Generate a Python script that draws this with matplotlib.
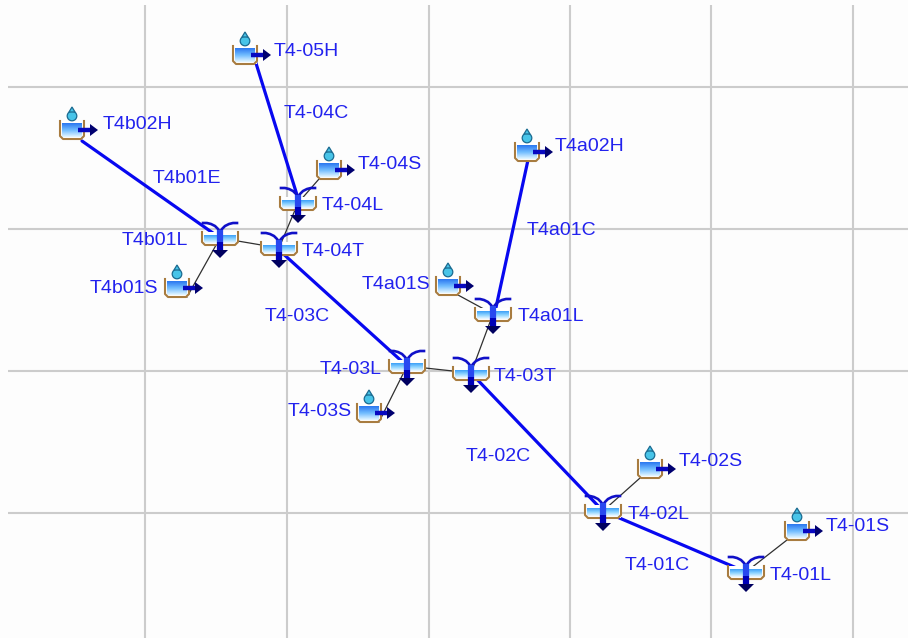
import matplotlib
matplotlib.use("Agg")
import matplotlib.pyplot as plt
from matplotlib.patches import Polygon, Circle
from matplotlib.colors import LinearSegmentedColormap
import numpy as np

W, H = 908, 638
grid_x = [145, 287, 429, 570, 711, 853]
grid_y = [87, 229, 371, 513]
grid_left = 8
grid_top = 5

source_names = ["T4-05H", "T4b02H", "T4-04S", "T4b01S", "T4a02H", "T4a01S", "T4-03S", "T4-02S", "T4-01S"]
source_x = [245, 72, 329, 177, 527, 448, 369, 650, 797]
source_y = [55, 130, 170, 288, 152, 286, 413, 469, 531]
source_label_x = [274, 103, 358, 90, 555, 362, 288, 679, 826]
source_label_y = [50, 123, 163, 287, 145, 283, 410, 460, 525]

junction_names = ["T4b01L", "T4-04T", "T4-04L", "T4a01L", "T4-03L", "T4-03T", "T4-02L", "T4-01L"]
junction_x = [220, 279, 298, 493, 407, 471, 603, 746]
junction_y = [238, 248, 203, 314, 366, 373, 511, 572]
junction_label_x = [122, 302, 322, 518, 320, 494, 628, 770]
junction_label_y = [239, 250, 204, 315, 368, 375, 513, 574]

reach_names = ["T4b01E", "T4-04C", "T4-03C", "T4a01C", "T4-02C", "T4-01C"]
reach_label_x = [153, 284, 265, 527, 466, 625]
reach_label_y = [177, 112, 315, 229, 455, 564]
reach_from = ["T4b02H", "T4-05H", "T4-04T", "T4a02H", "T4-03T", "T4-02L"]
reach_to = ["T4b01L", "T4-04L", "T4-03L", "T4a01L", "T4-02L", "T4-01L"]
reach_start_x = [82, 255, 279, 528, 471, 603]
reach_start_y = [141, 60, 250, 160, 373, 511]
reach_end_x = [220, 297, 407, 495, 603, 746]
reach_end_y = [238, 195, 366, 312, 511, 572]

link_from = ["T4-04L", "T4-04S", "T4b01S", "T4b01L", "T4a01S", "T4a01L", "T4-03S", "T4-03L", "T4-02S", "T4-01S"]
link_to = ["T4-04T", "T4-04L", "T4b01L", "T4-04T", "T4a01L", "T4-03T", "T4-03L", "T4-03T", "T4-02L", "T4-01L"]

BLUE = "#0808f0"
TEXT = "#2222ee"
BACKGROUND = "#fdfdfd"
pos = {n: (x, y) for n, x, y in zip(source_names, source_x, source_y)}
pos.update({n: (x, y) for n, x, y in zip(junction_names, junction_x, junction_y)})

fig = plt.figure(figsize=(W / 100, H / 100), dpi=100, facecolor=BACKGROUND)
ax = fig.add_axes([0, 0, 1, 1])
ax.set_xlim(0, W)
ax.set_ylim(H, 0)
ax.axis("off")

ax.vlines(grid_x, grid_top, H, color="#cccccc", lw=1.5, zorder=1)
ax.hlines(grid_y, grid_left, W, color="#cccccc", lw=1.5, zorder=1)

def link_end(name, other):
    x, y = pos[name]
    if name in source_names:
        side = 1 if pos[other][0] > x else -1
        return (x + side * 10, y + 9)
    return (x, y)

for a, b in zip(link_from, link_to):
    x0, y0 = link_end(a, b)
    x1, y1 = link_end(b, a)
    ax.plot([x0, x1], [y0, y1], color="#303030", lw=0.9, zorder=2)
for x0, y0, x1, y1 in zip(reach_start_x, reach_start_y, reach_end_x, reach_end_y):
    ax.plot([x0, x1], [y0, y1], color=BLUE, lw=2.3, zorder=2, solid_capstyle="round")

water_dark = LinearSegmentedColormap.from_list("wd", ["#2c78f0", "#70bcff", "#e4f6ff"])
water_light = LinearSegmentedColormap.from_list("wl", ["#3ca0f8", "#8ed4ff", "#f0faff"])
grad = np.linspace(0, 1, 32).reshape(-1, 1)

def cup(cx, top, w, h, water_top, cmap):
    l, r, b = cx - w / 2, cx + w / 2, top + h
    ax.fill([l, r, r, l], [top, top, b, b], color="white", zorder=4, lw=0)
    ax.imshow(grad, cmap=cmap, extent=(l + 2, r - 2, b - 2, water_top),
              aspect="auto", zorder=4.1, interpolation="bilinear")
    ax.plot([l, l, l + 3, r - 3, r, r], [top, b - 3, b, b, b - 3, top],
            color="#a87c40", lw=1.5, zorder=4.2, solid_joinstyle="round")

def source_icon(x, y):
    cup(x, y - 9, 24, 18, y - 7, water_dark)
    ax.add_patch(Circle((x, y - 14), 4.8, fc="#48c4e8", ec="#1a6a90", lw=0.9, zorder=5))
    ax.add_patch(Polygon([(x - 3, y - 18), (x, y - 23), (x + 3, y - 18)],
                         fc="#48c4e8", ec="#1a6a90", lw=0.9, zorder=5))
    ax.plot([x + 6, x + 19], [y, y], color="#0808c0", lw=3.2, zorder=6, solid_capstyle="butt")
    ax.add_patch(Polygon([(x + 18, y - 6), (x + 26, y), (x + 18, y + 6)], fc="#000070", ec="none", zorder=6))

wing_dx = [0, 2, 5, 9, 13, 17]
wing_dy = [-6, -9, -12, -14, -15, -15]

def junction_icon(x, y):
    cup(x, y - 6, 36, 13, y - 3, water_light)
    ax.plot([x - d for d in wing_dx], [y + d for d in wing_dy], color="#1010c8", lw=1.9, zorder=6)
    ax.plot([x + d for d in wing_dx], [y + d for d in wing_dy], color="#1010c8", lw=1.9, zorder=6)
    ax.plot([x, x], [y - 8, y + 4], color="#2848f0", lw=4.5, zorder=6, solid_capstyle="butt")
    ax.plot([x, x], [y + 4, y + 13], color="#0000b8", lw=4.5, zorder=6, solid_capstyle="butt")
    ax.add_patch(Polygon([(x - 8, y + 12), (x + 8, y + 12), (x, y + 20)], fc="#000060", ec="none", zorder=6))

for n in source_names:
    source_icon(*pos[n])
for n in junction_names:
    junction_icon(*pos[n])
ax.set_xlim(0, W)
ax.set_ylim(H, 0)

for names, xs, ys in [(source_names, source_label_x, source_label_y),
                      (junction_names, junction_label_x, junction_label_y),
                      (reach_names, reach_label_x, reach_label_y)]:
    for n, x, y in zip(names, xs, ys):
        ax.text(x, y + 1.5, n, color=TEXT, fontsize=14, family="Liberation Sans",
                ha="left", va="center", zorder=8)

fig.savefig("out.png", dpi=100, facecolor=BACKGROUND)
